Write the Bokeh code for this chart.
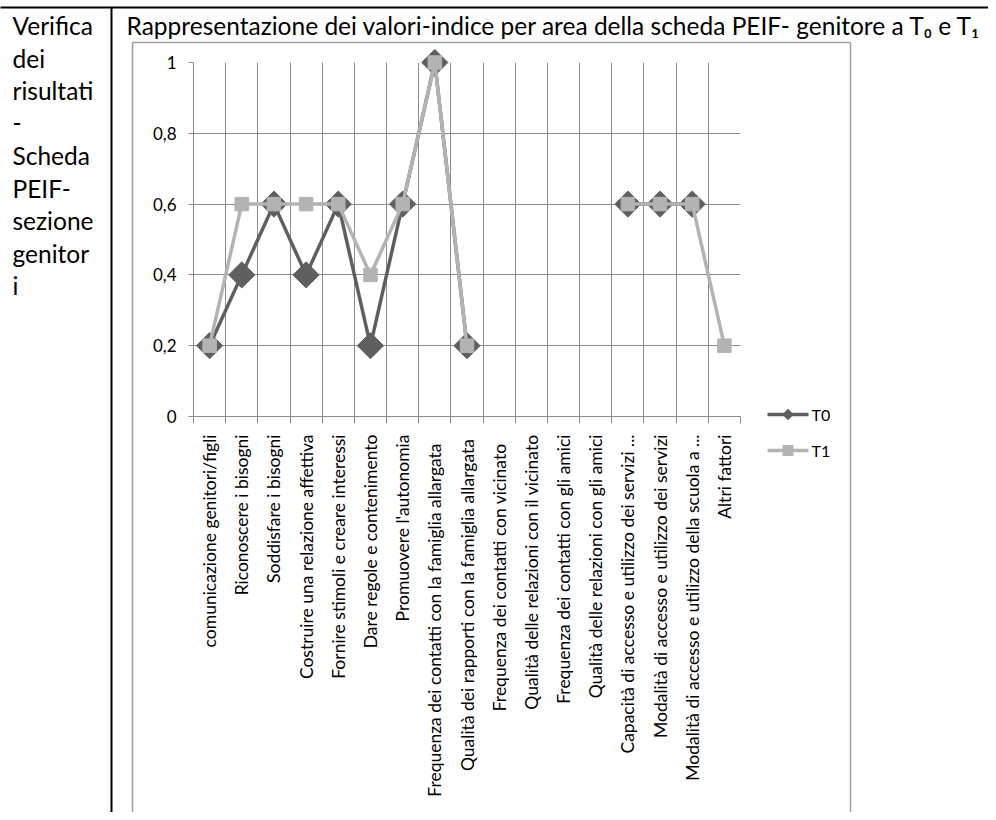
import math
from bokeh.plotting import figure
from bokeh.models import Range1d, FixedTicker, LinearAxis, ColumnDataSource, Grid
from bokeh.embed import file_html
from bokeh.resources import INLINE
from bokeh.core.properties import value

# ---------------- data ----------------
categories = [
    "comunicazione genitori/figli",
    "Riconoscere i bisogni",
    "Soddisfare i bisogni",
    "Costruire una relazione affettiva",
    "Fornire stimoli e creare interessi",
    "Dare regole e contenimento",
    "Promuovere l'autonomia",
    "Frequenza dei contatti  con la famiglia  allargata",
    "Qualità dei rapporti con la famiglia  allargata",
    "Frequenza dei contatti  con  vicinato",
    "Qualità delle relazioni con il vicinato",
    "Frequenza dei contatti con gli amici",
    "Qualità delle relazioni con gli amici",
    "Capacità di accesso e utilizzo dei servizi ...",
    "Modalità di accesso e utilizzo dei servizi",
    "Modalità di accesso e utilizzo della scuola a ...",
    "Altri fattori",
]
t0_values = [0.2, 0.4, 0.6, 0.4, 0.6, 0.2, 0.6, 1.0, 0.2, None, None, None, None, 0.6, 0.6, 0.6, None]
t1_values = [0.2, 0.6, 0.6, 0.6, 0.6, 0.4, 0.6, 1.0, 0.2, None, None, None, None, 0.6, 0.6, 0.6, 0.2]
series_names = ["T0", "T1"]
y_ticks = [0, 0.2, 0.4, 0.6, 0.8, 1.0]
y_tick_labels = ["0", "0,2", "0,4", "0,6", "0,8", "1"]
title_text = "Rappresentazione dei valori-indice per area della scheda PEIF- genitore a T\u2080 e T\u2081"
side_lines = ["Verifica", "dei", "risultati", "-", "Scheda", "PEIF-", "sezione", "genitor", "i"]

# ---------------- style ----------------
FONT = "Lato"
C0 = "#5f5f5f"
C1 = "#b3b3b3"
GRID = "#8c8c8c"
BORDER = "#a0a0a0"

W, H = 988, 812
# plot frame, in canvas pixels
PL, PR, PT, PB = 193, 740, 62, 416
n = len(categories)

p = figure(width=W, height=H, output_backend="svg", toolbar_location=None,
           x_range=Range1d(0, n), y_range=Range1d(0, 1),
           x_axis_type=None, y_axis_type=None,
           min_border_left=PL, min_border_right=W - PR,
           min_border_top=PT, min_border_bottom=H - PB)
p.title.visible = False
p.outline_line_color = None
p.background_fill_color = "white"
p.border_fill_color = "white"

xpx = (PR - PL) / n
ypx = (PB - PT) / 1.0


def dx(px):
    return (px - PL) / xpx


def dy(py):
    return (PB - py) / ypx


# grids
p.add_layout(Grid(dimension=0, ticker=FixedTicker(ticks=list(range(n + 1))),
                  grid_line_color=GRID, grid_line_width=1))
p.add_layout(Grid(dimension=1, ticker=FixedTicker(ticks=y_ticks),
                  grid_line_color=GRID, grid_line_width=1))

# axes
xcenters = [i + 0.5 for i in range(n)]
xaxis = LinearAxis(
    ticker=FixedTicker(ticks=xcenters, minor_ticks=list(range(n + 1))),
    major_label_overrides={c: lab for c, lab in zip(xcenters, categories)},
    major_label_orientation=math.pi / 2,
    major_tick_line_color=None, major_tick_in=0, major_tick_out=7,
    minor_tick_in=0, minor_tick_out=7, minor_tick_line_color=GRID,
    axis_line_color=GRID, axis_line_width=1,
    major_label_standoff=11,
    major_label_text_font=FONT, major_label_text_font_size="17.5px",
    major_label_text_color="#000000",
)
p.add_layout(xaxis, "below")

yaxis = LinearAxis(
    ticker=FixedTicker(ticks=y_ticks),
    major_label_overrides=dict(zip(y_ticks, y_tick_labels)),
    major_tick_in=0, major_tick_out=5, major_tick_line_color=GRID,
    minor_tick_line_color=None,
    axis_line_color=GRID, axis_line_width=1,
    major_label_standoff=12,
    major_label_text_font=FONT, major_label_text_font_size="17px",
    major_label_text_color="#000000",
)
p.add_layout(yaxis, "left")

# data
nan = float("nan")
src = ColumnDataSource(dict(
    x=xcenters,
    t0=[nan if v is None else v for v in t0_values],
    t1=[nan if v is None else v for v in t1_values],
))
p.line("x", "t0", source=src, line_color=C0, line_width=3.5, level="overlay")
p.scatter("x", "t0", source=src, marker="square", angle=math.pi / 4, size=18.5,
          fill_color=C0, line_color=C0, level="overlay")
p.line("x", "t1", source=src, line_color=C1, line_width=3.5, level="overlay")
p.scatter("x", "t1", source=src, marker="square", size=13.5,
          fill_color=C1, line_color=C1, level="overlay")

# legend (drawn with glyphs, since it sits outside the plot frame)
LX0, LX1, LTX = 767, 808, 811
leg_py = [414, 450]
leg_y = [dy(v) for v in leg_py]
cx = (LX0 + LX1) / 2
p.segment(x0=[dx(LX0)] * 2, x1=[dx(LX1)] * 2, y0=leg_y, y1=leg_y,
          line_color=[C0, C1], line_width=3.5, level="overlay")
# legend keys: diamond (thick diagonal segment) and square (thick short segment)
dk = 2.9   # half extent in px of the diamond key along each axis
sk = 5.5   # half side in px of the square key
p.segment(x0=[dx(cx - dk), dx(cx - sk)], x1=[dx(cx + dk), dx(cx + sk)],
          y0=[dy(leg_py[0] + dk), leg_y[1]], y1=[dy(leg_py[0] - dk), leg_y[1]],
          line_color=[C0, C1], line_width=[2 * dk * math.sqrt(2), 2 * sk],
          line_cap="butt", level="overlay")
p.text(x=[dx(LTX)] * 2, y=leg_y, text=series_names, text_font=value(FONT),
       text_font_size=value("16px"), text_baseline="middle", text_color="#000000",
       level="overlay")

# decorations: table lines and chart border
p.segment(x0=[dx(0), dx(111), dx(132), dx(132), dx(850)],
          y0=[dy(7), dy(7), dy(42), dy(42), dy(42)],
          x1=[dx(W), dx(111), dx(850), dx(132), dx(850)],
          y1=[dy(7), dy(H), dy(42), dy(H), dy(H)],
          line_color=["#000000", "#000000", BORDER, BORDER, BORDER],
          line_width=[2, 2, 1.5, 1.5, 1.5], level="overlay")

# title and left column text
p.text(x=[dx(126)], y=[dy(25)], text=[title_text], text_font=value(FONT),
       text_font_size=value("24.5px"), text_baseline="middle", text_color="#000000",
       level="overlay")
p.text(x=[dx(12)] * len(side_lines), y=[dy(25 + 32.5 * i) for i in range(len(side_lines))],
       text=side_lines, text_font=value(FONT), text_font_size=value("24.5px"),
       text_baseline="middle", text_color="#000000", level="overlay")

open("out.html", "w").write(file_html(p, INLINE))
